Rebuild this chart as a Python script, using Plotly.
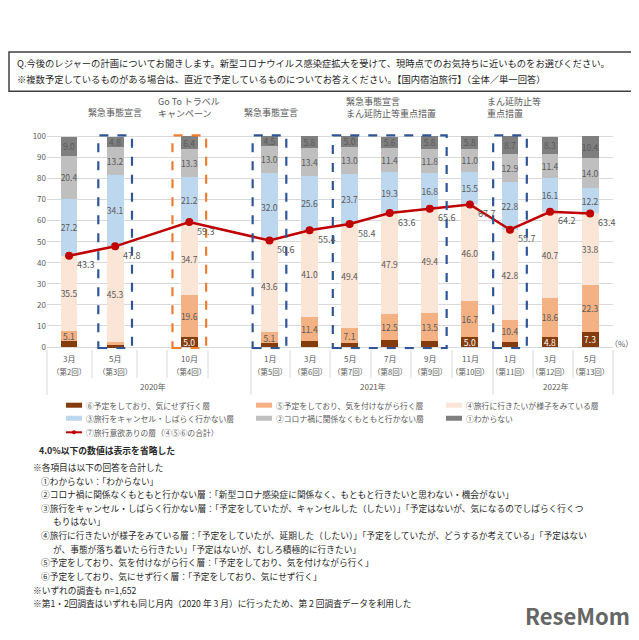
import plotly.graph_objects as go

FONT = "Noto Sans CJK JP"
months = ["3月", "5月", "10月", "1月", "3月", "5月", "7月", "9月", "11月", "1月", "3月", "5月"]
rounds = ["第2回", "第3回", "第4回", "第5回", "第6回", "第7回", "第8回", "第9回", "第10回", "第11回", "第12回", "第13回"]
slots = [0, 1.15, 3, 5, 6, 7, 8, 9, 10, 11, 12, 13]

s6 = [2.7, 0.8, 5.0, 1.9, 3.0, 1.9, 3.2, 2.7, 5.0, 2.5, 4.8, 7.3]
s5 = [5.1, 1.7, 19.6, 5.1, 11.4, 7.1, 12.5, 13.5, 16.7, 10.4, 18.6, 22.3]
s4 = [35.5, 45.3, 34.7, 43.6, 41.0, 49.4, 47.9, 49.4, 46.0, 42.8, 40.7, 33.8]
s3 = [27.2, 34.1, 21.2, 32.0, 25.6, 23.7, 19.3, 16.8, 15.5, 22.8, 16.1, 12.2]
s2 = [20.4, 13.2, 13.3, 13.0, 13.4, 13.0, 11.4, 11.8, 11.0, 12.9, 11.4, 14.0]
s1 = [9.0, 4.8, 6.4, 4.5, 5.8, 5.0, 5.6, 5.8, 5.8, 8.7, 8.3, 10.4]
total = [43.3, 47.8, 59.3, 50.6, 55.4, 58.4, 63.6, 65.6, 67.7, 55.7, 64.2, 63.4]

names = ["⑥予定をしており、気にせず行く層", "⑤予定をしており、気を付けながら行く層", "④旅行に行きたいが様子をみている層",
         "③旅行をキャンセル・しばらく行かない層", "②コロナ禍に関係なくもともと行かない層", "①わからない"]
colors = ["#843C0C", "#F4B183", "#FBE5D6", "#BDD7EE", "#BFBFBF", "#7F7F7F"]
series = [s6, s5, s4, s3, s2, s1]
line_name = "⑦旅行意欲ありの層（④⑤⑥の合計）"

blue_groups = [[1], [3], [5, 6, 7], [9]]
orange_groups = [[2]]

fig = go.Figure()
for nm, col, vals in zip(names, colors, series):
    fig.add_trace(go.Bar(
        x=slots, y=vals, name=nm, marker=dict(color=col, line=dict(width=0)), width=0.42,
        text=[f"{v:.1f}" if v > 4.0 else "" for v in vals], textposition="inside",
        insidetextanchor="middle", textangle=0,
        textfont=dict(size=8.5, color="white" if col == "#843C0C" else "#595959", family=FONT),
        showlegend=False))
fig.add_trace(go.Scatter(
    x=slots, y=total, mode="lines+markers", line=dict(color="#C00000", width=2.5),
    marker=dict(size=8, color="#C00000"), showlegend=False))

ann = []
for s, v in zip(slots, total):
    ann.append(dict(xref="x", yref="y", x=s, y=v, text=f"{v:.1f}", showarrow=False, xshift=17, yshift=-9,
                    font=dict(size=9, color="#595959", family=FONT)))

shapes = []
for groups, col in [(blue_groups, "#2F5597"), (orange_groups, "#ED7D31")]:
    for g in groups:
        x0 = slots[g[0]] - 0.42
        x1 = slots[g[-1]] + 0.42
        shapes.append(dict(type="rect", xref="x", yref="y", x0=x0, x1=x1, y0=-0.5, y1=100.5,
                           line=dict(color=col, width=2.2, dash="dash")))

PW, PH = 639, 640
def px(x): return (x - 7) / PW
def py(y): return 1 - ((y - 13) / 0.986) / PH

shapes.append(dict(type="rect", xref="paper", yref="paper", x0=px(8), x1=px(632), y0=py(53), y1=py(92),
                   line=dict(color="#404040", width=1.5)))
for xv in [46, 91, 136, 166, 207, 250, 289, 329, 370, 410, 451, 492, 532, 572, 612]:
    tall = xv in (46, 250, 492, 612)
    shapes.append(dict(type="line", xref="paper", yref="paper", x0=px(xv), x1=px(xv), y0=py(350),
                       y1=py(395 if tall else 378), line=dict(color="#D9D9D9", width=1)))

def text(x, y, t, size=9, color="#404040", xanchor="center", bold=False):
    ann.append(dict(xref="paper", yref="paper", x=px(x), y=py(y), text=f"<b>{t}</b>" if bold else t,
                    showarrow=False, xanchor=xanchor, yanchor="middle", align="left",
                    font=dict(size=size, color=color, family=FONT)))

text(14, 64, "Q.今後のレジャーの計画についてお聞きします。新型コロナウイルス感染症拡大を受けて、現時点でのお気持ちに近いものをお選びください。", 9.3, "#262626", "left")
text(14, 80, "※複数予定しているものがある場合は、直近で予定しているものについてお答えください。【国内宿泊旅行】（全体／単一回答）", 9.3, "#262626", "left")

text(114, 113, "緊急事態宣言", 9, "#595959")
text(188, 108, "Go To トラベル<br>キャンペーン", 9, "#595959")
text(270, 113, "緊急事態宣言", 9, "#595959")
text(390, 108, "緊急事態宣言<br>まん延防止等重点措置", 9, "#595959")
text(513, 108, "まん延防止等<br>重点措置", 9, "#595959")

for s, m, r in zip(slots, months, rounds):
    xp = 46 + (s + 0.55) * 40.1
    text(xp, 358, m, 8, "#595959")
    text(xp, 371, f"（{r}）", 7.5, "#595959")
text(152, 386, "2020年", 8, "#595959")
text(372, 386, "2021年", 8, "#595959")
text(555, 386, "2022年", 8, "#595959")
text(620, 343, "（%）", 8, "#595959")

leg = [(65, 405, 0), (255, 405, 1), (445, 405, 2), (65, 418, 3), (255, 418, 4), (445, 418, 5)]
for x, y, i in leg:
    shapes.append(dict(type="rect", xref="paper", yref="paper", x0=px(x), x1=px(x + 16), y0=py(y + 2.5), y1=py(y - 2.5),
                       fillcolor=colors[i], line=dict(width=0)))
    text(x + 18, y, names[i], 7.8, "#595959", "left")
shapes.append(dict(type="line", xref="paper", yref="paper", x0=px(65), x1=px(81), y0=py(432), y1=py(432),
                   line=dict(color="#C00000", width=2)))
shapes.append(dict(type="circle", xref="paper", yref="paper", x0=px(71), x1=px(75), y0=py(434), y1=py(430),
                   fillcolor="#C00000", line=dict(width=0)))
text(83, 432, line_name, 7.8, "#595959", "left")

text(36, 450, "4.0%以下の数値は表示を省略した", 8.8, "#262626", "left", bold=True)
notes = [
    (30, "※各項目は以下の回答を合計した"),
    (38, "①わからない：「わからない」"),
    (38, "②コロナ禍に関係なくもともと行かない層：「新型コロナ感染症に関係なく、もともと行きたいと思わない・機会がない」"),
    (38, "③旅行をキャンセル・しばらく行かない層：「予定をしていたが、キャンセルした（したい）」「予定はないが、気になるのでしばらく行くつ"),
    (50, "もりはない」"),
    (38, "④旅行に行きたいが様子をみている層：「予定をしていたが、延期した（したい）」「予定をしていたが、どうするか考えている」「予定はない"),
    (50, "が、事態が落ち着いたら行きたい」「予定はないが、むしろ積極的に行きたい」"),
    (38, "⑤予定をしており、気を付けながら行く層：「予定をしており、気を付けながら行く」"),
    (38, "⑥予定をしており、気にせず行く層：「予定をしており、気にせず行く」"),
    (30, "※いずれの調査も n=1,652"),
    (30, "※第1・2回調査はいずれも同じ月内（2020 年 3 月）に行ったため、第 2 回調査データを利用した"),
]
for k, (x, t) in enumerate(notes):
    text(x, 467 + k * 13.6, t, 8.7, "#262626", "left")
text(576, 614, "ReseMom", 22, "#666666", bold=True)

fig.update_layout(
    width=PW, height=PH, barmode="stack", plot_bgcolor="white", paper_bgcolor="white",
    margin=dict(l=0, r=0, t=0, b=0), shapes=shapes, annotations=ann,
    uniformtext=dict(minsize=8, mode="show"),
    xaxis=dict(domain=[px(46), px(612)], range=[-0.55, 13.57], showticklabels=False, showgrid=False,
               zeroline=False, showline=False),
    yaxis=dict(domain=[py(347 + 2.1 * 1.0), py(137 - 2.1 * 1.2)], range=[-1.0, 101.2], tickvals=list(range(0, 101, 10)),
               showgrid=True, gridcolor="#D9D9D9", zeroline=False,
               tickfont=dict(size=8, color="#595959", family=FONT), ticks=""),
    font=dict(family=FONT),
)
fig.write_html("out.html")
